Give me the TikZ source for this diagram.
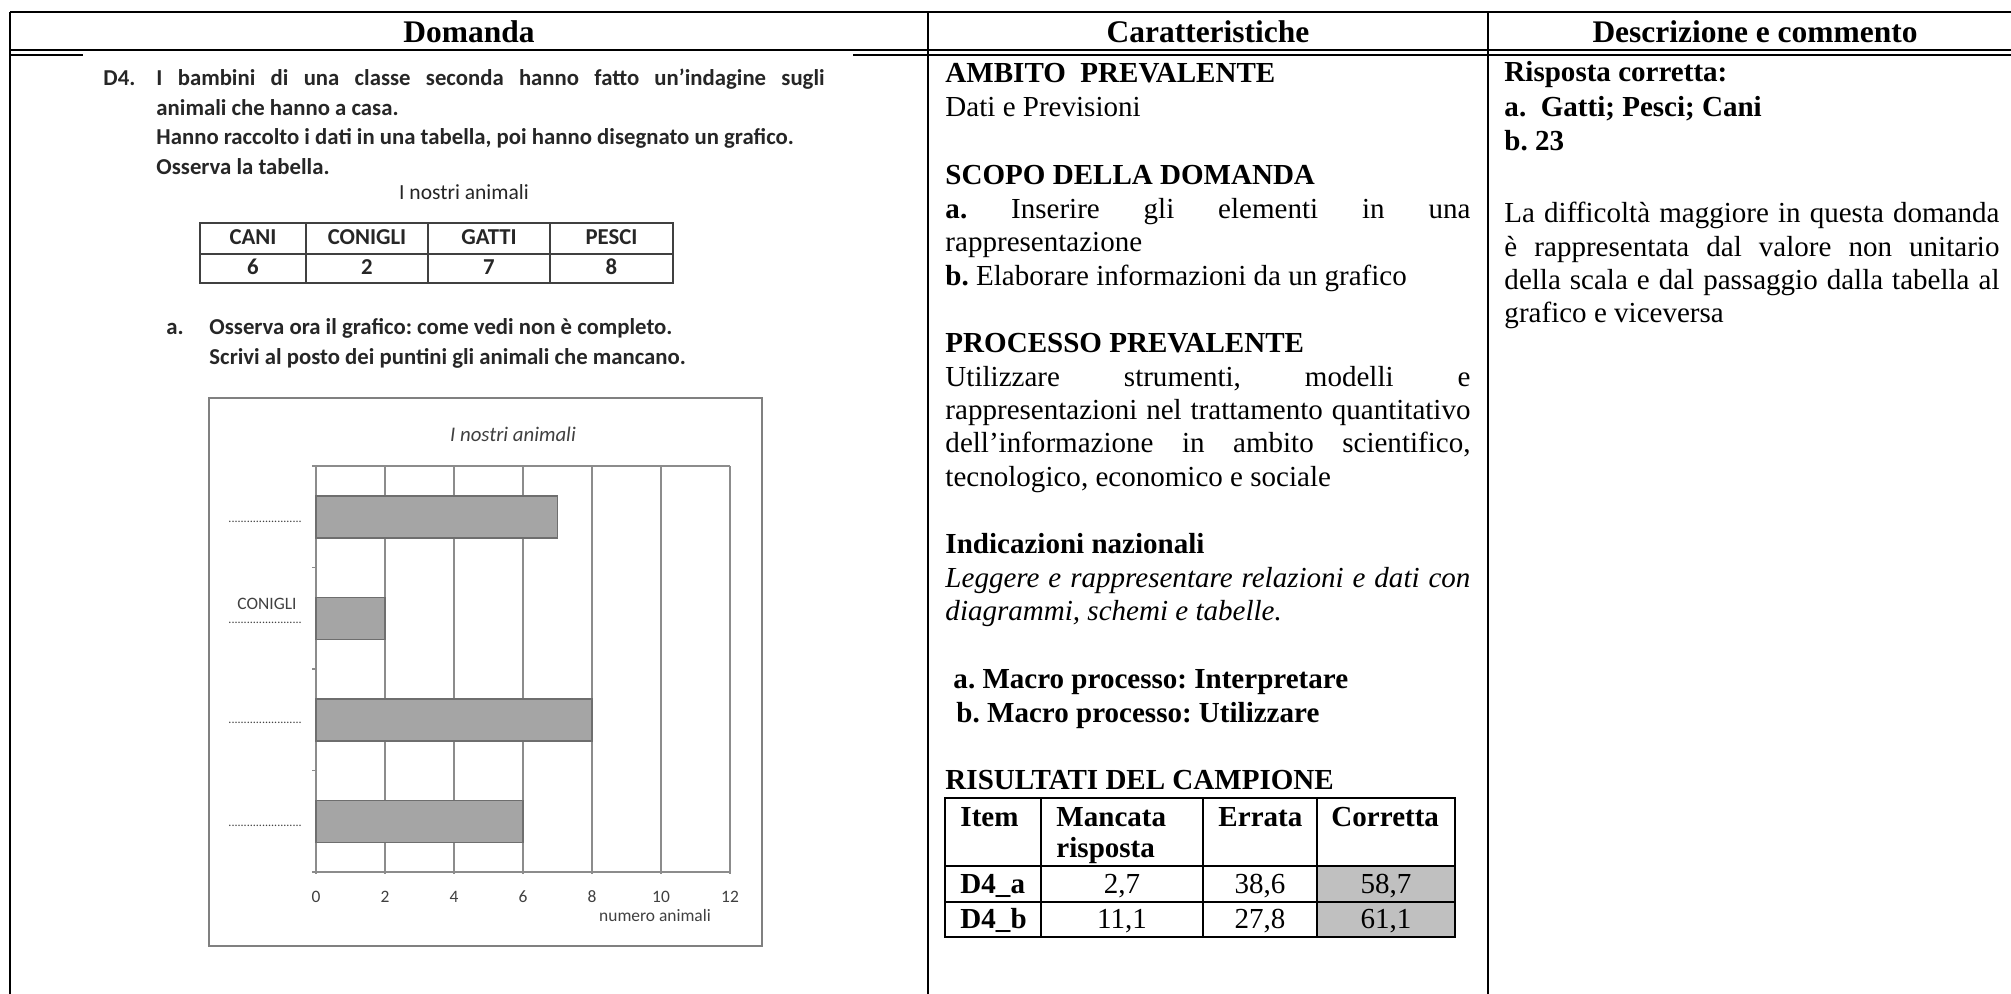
\documentclass[tikz,border=0pt]{standalone}
\usepackage{fontspec}
\setmainfont{Liberation Serif}
\newfontfamily\calibri{Carlito}
\usepackage{xcolor}
\usepackage{tikz}
\usetikzlibrary{positioning}
\definecolor{chartgray}{HTML}{A5A5A5}
\definecolor{bardraw}{HTML}{6E6E6E}
\definecolor{gridgray}{HTML}{8C8C8C}
\definecolor{framegray}{HTML}{808080}
\definecolor{inkgray}{HTML}{404040}
\definecolor{cellgray}{HTML}{C0C0C0}
\newcommand\pxw[1]{\dimexpr0.4132pt*#1\relax}
\frenchspacing

\begin{document}
\begin{tikzpicture}[x=0.4132pt, y=-0.4132pt,
    head/.style={font=\fontsize{13}{15}\selectfont\bfseries, anchor=base, inner sep=0pt},
    txt/.style={font=\fontsize{12}{14}\selectfont, anchor=base west, inner sep=0pt},
    btxt/.style={txt, font=\fontsize{12}{14}\selectfont\bfseries},
    qtxt/.style={font=\calibri\fontsize{9.4}{11}\selectfont\bfseries, text=black!85, anchor=base west, inner sep=0pt},
    ctxt/.style={font=\calibri\fontsize{7.2}{8}\selectfont, text=inkgray, inner sep=0pt},
    bar/.style={fill=chartgray, draw=bardraw, line width=0.5pt}]
    \useasboundingbox (0,0) rectangle (2011,994);
    \fill[white] (0,0) rectangle (2011,994);

    % Table frame
    \draw[line width=0.85pt] (10,12) -- (2011,12);
    \draw[line width=0.65pt] (10,50) -- (2011,50);
    \draw[line width=0.65pt] (10,55) -- (83,55);
    \draw[line width=0.65pt] (853,55) -- (2011,55);
    \draw[line width=0.85pt] (10,12) -- (10,994);
    \draw[line width=0.85pt] (928,12) -- (928,994);
    \draw[line width=0.85pt] (1488,12) -- (1488,994);

    \node[head] (hdom) at (469,42) {Domanda};
    \node[head] (hcar) at (1208,42) {Caratteristiche};
    \node[head] (hdes) at (1755,42) {Descrizione e commento};

    % Domanda
    \node[qtxt] (qnum) at (103,85) {D4.};
    \node[qtxt] (q1) at (156,85) {\makebox[\pxw{668}][s]{I bambini di una classe seconda hanno fatto un’indagine sugli}};
    \node[qtxt] (q2) at (156,115) {animali che hanno a casa.};
    \node[qtxt] (q3) at (156,144) {Hanno raccolto i dati in una tabella, poi hanno disegnato un grafico.};
    \node[qtxt] (q4) at (156,174) {Osserva la tabella.};
    \node[qtxt, font=\calibri\fontsize{8.9}{10}\selectfont, anchor=base] (tcap) at (464,199) {I nostri animali};

    \draw[inkgray, line width=0.7pt] (200,223) rectangle (673,283);
    \draw[inkgray, line width=0.7pt] (200,254) -- (673,254);
    \foreach \x in {306,428,550}
        \draw[inkgray, line width=0.7pt] (\x,223) -- (\x,283);
    \foreach \x/\n/\v [count=\i] in {253/CANI/6, 367/CONIGLI/2, 489/GATTI/7, 611.5/PESCI/8} {
        \node[qtxt, anchor=base] (th\i) at (\x,244) {\n};
        \node[qtxt, anchor=base] (tv\i) at (\x,274) {\v};
    }

    \node[qtxt] (qa) at (166,334) {a.};
    \node[qtxt] (qa1) at (209,334) {Osserva ora il grafico: come vedi non è completo.};
    \node[qtxt] (qa2) at (209,364) {Scrivi al posto dei puntini gli animali che mancano.};

    % Chart
    \draw[framegray, line width=0.9pt] (209,398) rectangle (762,946);
    \node[ctxt, font=\calibri\itshape\fontsize{8.6}{10}\selectfont] (ctitle) at (513,434) {I nostri animali};
    \foreach \k in {0,...,6}
        \draw[gridgray, line width=0.6pt] ({316+69*\k},466) -- ({316+69*\k},874);
    \draw[gridgray, line width=0.6pt] (312,466) -- (730,466);
    \draw[gridgray, line width=0.6pt] (312,872) -- (730,872);
    \foreach \y in {567.5,669,770.5}
        \draw[gridgray, line width=0.6pt] (312,\y) -- (316,\y);
    \foreach \v [count=\i from 0] in {7,2,8,6}
        \draw[bar] (316,{496+101.5*\i}) rectangle ({316+34.5*\v},{538+101.5*\i});
    \foreach \y [count=\i] in {522,623,723,826}
        \node[ctxt, font=\calibri\fontsize{5}{6}\selectfont, anchor=base west] (dots\i) at (228,\y) {........................};
    \node[ctxt] (conigli) at (267,604) {CONIGLI};
    \foreach \k/\lab in {0/0,1/2,2/4,3/6,4/8,5/10,6/12}
        \node[ctxt, anchor=base] (xl\k) at ({316+69*\k},902) {\lab};
    \node[ctxt] (xname) at (655,916) {numero animali};

    % Caratteristiche
    \node[btxt] (amb) at (945,82) {AMBITO~~PREVALENTE};
    \node[txt] (amb1) at (945,116) {Dati e Previsioni};
    \node[btxt] (sco) at (945,184) {SCOPO DELLA DOMANDA};
    \node[txt] (sco1) at (945,218) {\makebox[\pxw{525}][s]{\textbf{a.} Inserire gli elementi in una}};
    \node[txt] (sco2) at (945,251) {rappresentazione};
    \node[txt] (sco3) at (945,285) {\textbf{b.} Elaborare informazioni da un grafico};
    \node[btxt] (pro) at (945,352) {PROCESSO PREVALENTE};
    \node[txt] (pro1) at (945,386) {\makebox[\pxw{525}][s]{Utilizzare strumenti, modelli e}};
    \node[txt] (pro2) at (945,419) {\makebox[\pxw{525}][s]{rappresentazioni nel trattamento quantitativo}};
    \node[txt] (pro3) at (945,452) {\makebox[\pxw{525}][s]{dell'informazione in ambito scientifico,}};
    \node[txt] (pro4) at (945,486) {tecnologico, economico e sociale};
    \node[btxt] (ind) at (945,553) {Indicazioni nazionali};
    \node[txt] (ind1) at (945,587) {\makebox[\pxw{525}][s]{\itshape Leggere e rappresentare relazioni e dati con}};
    \node[txt] (ind2) at (945,620) {\itshape diagrammi, schemi e tabelle.};
    \node[btxt] (mac1) at (953,688) {a. Macro processo: Interpretare};
    \node[btxt] (mac2) at (956,722) {b. Macro processo: Utilizzare};
    \node[btxt] (ris) at (945,789) {RISULTATI DEL CAMPIONE};

    \fill[cellgray] (1317,866) rectangle (1455,937);
    \draw[line width=0.85pt] (945,798) rectangle (1455,937);
    \draw[line width=0.85pt] (945,866) -- (1455,866);
    \draw[line width=0.85pt] (945,902) -- (1455,902);
    \foreach \x in {1041,1203,1317}
        \draw[line width=0.85pt] (\x,798) -- (\x,937);
    \node[btxt] (citem) at (960,826) {Item};
    \node[btxt] (cman) at (1056,826) {Mancata};
    \node[btxt] (cman2) at (1056,857) {risposta};
    \node[btxt] (cerr) at (1218,826) {Errata};
    \node[btxt] (ccor) at (1331,826) {Corretta};
    \node[btxt] (ra) at (960,893) {D4\_a};
    \node[btxt] (rb) at (960,928) {D4\_b};
    \foreach \x/\a/\b [count=\i] in {1122/{2,7}/{11,1}, 1260/{38,6}/{27,8}, 1386/{58,7}/{61,1}} {
        \node[txt, anchor=base] (va\i) at (\x,893) {\a};
        \node[txt, anchor=base] (vb\i) at (\x,928) {\b};
    }

    % Descrizione e commento
    \node[btxt] (rc) at (1504,81) {Risposta corretta:};
    \node[btxt] (rc1) at (1504,116) {a.~~Gatti; Pesci; Cani};
    \node[btxt] (rc2) at (1504,150) {b. 23};
    \node[txt] (com1) at (1504,222) {\makebox[\pxw{495}][s]{La difficoltà maggiore in questa domanda}};
    \node[txt] (com2) at (1504,256) {\makebox[\pxw{495}][s]{è rappresentata dal valore non unitario}};
    \node[txt] (com3) at (1504,289) {\makebox[\pxw{495}][s]{della scala e dal passaggio dalla tabella al}};
    \node[txt] (com4) at (1504,322) {grafico e viceversa};
\end{tikzpicture}
\end{document}
